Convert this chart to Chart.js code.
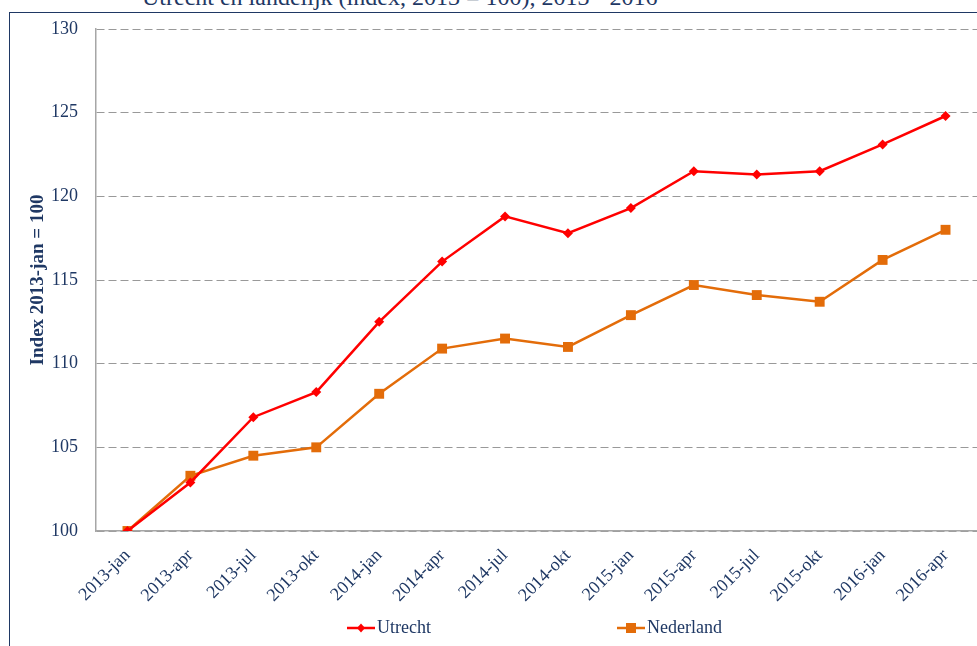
<!DOCTYPE html>
<html lang="nl">
<head>
<meta charset="UTF-8">
<title>Utrecht en landelijk</title>
<script src="https://cdn.jsdelivr.net/npm/chart.js"></script>
<style>
  html, body { margin: 0; padding: 0; background: #fff; overflow: hidden; width: 977px; height: 646px; }
  .kader { position: fixed; left: 9px; top: 12px; right: -60px; bottom: -60px; border-left: 1.5px solid #1f3864; border-top: 1.5px solid #1f3864; }
  .titel { position: absolute; left: 142px; top: -15px; font: 24px "Liberation Serif", serif; line-height: 24px; color: #1f3864; white-space: nowrap; }
  .vak { position: absolute; left: 0; top: 0; width: 984px; height: 646px; }
</style>
</head>
<body>
<div class="titel">Utrecht en landelijk (index, 2013 = 100), 2013 - 2016</div>
<div class="kader"></div>
<div class="vak"><canvas id="grafiek" width="984" height="646"></canvas></div>
<script>
// gegevens
const perioden = ['2013-jan', '2013-apr', '2013-jul', '2013-okt', '2014-jan', '2014-apr', '2014-jul',
                  '2014-okt', '2015-jan', '2015-apr', '2015-jul', '2015-okt', '2016-jan', '2016-apr'];
const utrecht = [100, 102.9, 106.8, 108.3, 112.5, 116.1, 118.8, 117.8, 119.3, 121.5, 121.3, 121.5, 123.1, 124.8];
const nederland = [100, 103.3, 104.5, 105.0, 108.2, 110.9, 111.5, 111.0, 112.9, 114.7, 114.1, 113.7, 116.2, 118.0];
const yTicks = [100, 105, 110, 115, 120, 125, 130];

const navy = '#1f3864';
const rood = '#ff0000';
const oranje = '#e36c09';
const serif = '"Liberation Serif", "Times New Roman", serif';

// legenda zelf tekenen: lijn met marker in het midden
const legendaPlugin = {
    id: 'legenda',
    afterDraw(chart) {
        const ctx = chart.ctx;
        const items = [
            { tekst: 'Utrecht', kleur: rood, x: 347, vorm: 'ruit' },
            { tekst: 'Nederland', kleur: oranje, x: 617, vorm: 'vierkant' }
        ];
        const y = 628;
        ctx.save();
        items.forEach(item => {
            ctx.strokeStyle = item.kleur;
            ctx.lineWidth = 2.5;
            ctx.beginPath();
            ctx.moveTo(item.x, y);
            ctx.lineTo(item.x + 28, y);
            ctx.stroke();
            ctx.fillStyle = item.kleur;
            const mx = item.x + 14;
            if (item.vorm === 'ruit') {
                ctx.beginPath();
                ctx.moveTo(mx, y - 4.5);
                ctx.lineTo(mx + 4, y);
                ctx.lineTo(mx, y + 4.5);
                ctx.lineTo(mx - 4, y);
                ctx.closePath();
                ctx.fill();
            } else {
                ctx.fillRect(mx - 5, y - 5, 10, 10);
            }
            ctx.fillStyle = navy;
            ctx.font = '18px ' + serif;
            ctx.textBaseline = 'middle';
            ctx.textAlign = 'left';
            ctx.fillText(item.tekst, item.x + 30, y);
        });
        ctx.restore();
    }
};

new Chart(document.getElementById('grafiek'), {
    type: 'line',
    data: {
        labels: perioden,
        datasets: [
            {
                label: 'Utrecht',
                data: utrecht,
                borderColor: rood,
                backgroundColor: rood,
                borderWidth: 2.5,
                pointStyle: 'rectRot',
                pointRadius: 5,
                pointBorderWidth: 0,
                tension: 0
            },
            {
                label: 'Nederland',
                data: nederland,
                borderColor: oranje,
                backgroundColor: oranje,
                borderWidth: 2.5,
                pointStyle: 'rect',
                pointRadius: 7,
                pointBorderWidth: 0,
                tension: 0
            }
        ]
    },
    options: {
        responsive: false,
        animation: false,
        layout: { padding: { left: 0, top: 29, right: 2, bottom: 0 } },
        plugins: {
            legend: { display: false },
            tooltip: { enabled: false }
        },
        scales: {
            x: {
                offset: true,
                grid: { display: false, drawTicks: false },
                border: { display: true, color: '#a6a6a6', width: 1.5 },
                ticks: {
                    color: navy,
                    font: { family: serif, size: 18 },
                    minRotation: 45,
                    maxRotation: 45,
                    padding: 14,
                    autoSkip: false
                },
                afterFit(scale) { scale.height = 115; }
            },
            y: {
                min: 100,
                max: 130,
                afterBuildTicks(scale) { scale.ticks = yTicks.map(v => ({ value: v })); },
                grid: { color: '#999999', lineWidth: 1, drawTicks: false },
                border: { display: true, color: '#a6a6a6', width: 1.5, dash: [8, 4] },
                ticks: {
                    color: navy,
                    font: { family: serif, size: 18 },
                    padding: 18
                },
                title: {
                    display: true,
                    text: 'Index 2013-jan = 100',
                    color: navy,
                    font: { family: serif, size: 19, weight: 'bold' },
                    padding: { top: 27, bottom: 0 }
                },
                afterFit(scale) { scale.width = 96; }
            }
        }
    },
    plugins: [legendaPlugin]
});
</script>
</body>
</html>
